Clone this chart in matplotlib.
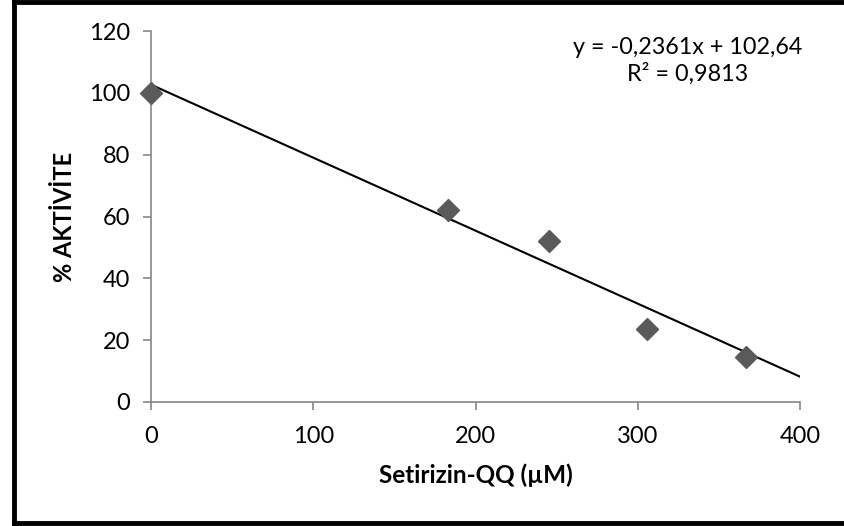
import numpy as np
import matplotlib.pyplot as plt
from matplotlib.lines import Line2D

# data
konsantrasyon = [0, 183, 245, 306, 367]
aktivite = [100, 62, 52, 23.5, 14.5]
egim = -0.2361
kesisim = 102.64
denklem = "y = -0,2361x + 102,64\nR² = 0,9813"
x_ticks = [0, 100, 200, 300, 400]
y_ticks = [0, 20, 40, 60, 80, 100, 120]

plt.rcParams['font.family'] = ['Lato', 'DejaVu Sans']

fig = plt.figure(figsize=(8.44, 5.26), dpi=100)
ax = fig.add_axes([151/844, 1-402/526, 649/844, 371/526])

# trend line over the full x range
xx = np.array([0, 400])
ax.plot(xx, egim*xx + kesisim, color='black', lw=1.5, zorder=2)
ax.plot(konsantrasyon, aktivite, 'D', color='#5a5a5a', markersize=11, zorder=3, clip_on=False)

ax.set_xlim(0, 400)
ax.set_ylim(0, 120)
ax.set_xticks(x_ticks)
ax.set_yticks(y_ticks)
for s in ['top', 'right']:
    ax.spines[s].set_visible(False)
for s in ['left', 'bottom']:
    ax.spines[s].set_color('#868686')
    ax.spines[s].set_linewidth(1.2)
ax.tick_params(direction='out', length=6, width=1.2, color='#868686',
               labelsize=17, labelcolor='black')
ax.tick_params(axis='x', pad=11)
ax.tick_params(axis='y', pad=9)

ax.set_xlabel("Setirizin-QQ (µM)", fontsize=17.5, fontweight='bold', labelpad=12)
ax.set_ylabel("% AKTİVİTE", fontsize=17, fontweight='bold', labelpad=9)

fig.text(688/844, 1-61/526, denklem, ha='center', va='center', fontsize=16.8,
         multialignment='center', linespacing=1.3)

# outer frame like in the original (right side cut off)
fig.add_artist(Line2D([14/844, 14/844], [0, 1], transform=fig.transFigure, color='black', lw=3.5))
fig.add_artist(Line2D([14/844, 1], [1-2/526, 1-2/526], transform=fig.transFigure, color='black', lw=3.5))
fig.add_artist(Line2D([14/844, 1], [3/526, 3/526], transform=fig.transFigure, color='black', lw=3.5))

fig.savefig("out.png", dpi=100)
